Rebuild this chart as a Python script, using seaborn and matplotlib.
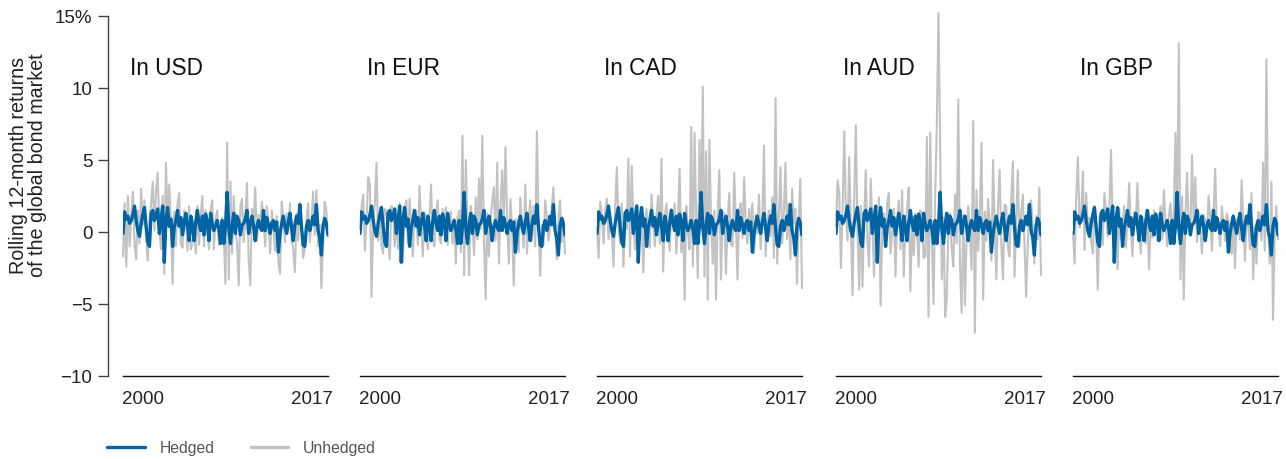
import numpy as np
import pandas as pd
import matplotlib
matplotlib.use("Agg")
import matplotlib.pyplot as plt
import seaborn as sns

# ─────────────────────────────────────────────
# Données (rendements glissants 12 mois, en %)
# ─────────────────────────────────────────────
dates = pd.date_range("1998-01-01", periods=125, freq="2MS")
devises = ["In USD", "In EUR", "In CAD", "In AUD", "In GBP"]

hedged = [
    -0.1, 1.4, 0.9, 1.1, 0.6, 0.8, 1.2, 1.8, 0.8, 0.1, -0.3, 0.6, 1.2, 1.7, 0.4, -0.7, -1.0, 1.3, 1.5, 0.8,
    1.1, 1.6, -0.1, 0.9, 1.8, -2.1, 0.8, 1.7, 0.4, 0.9, -1.0, 0.3, 0.8, 1.5, 0.4, 1.0, -0.2, 0.6, 1.3, 0.5,
    -0.6, 1.1, 0.4, -0.6, 0.7, 1.5, 0.6, 0.1, 1.1, -0.2, 1.25, 0.7, -0.6, 1.3, 0.5, 0.1, 0.4, 0.8, 0.2, -0.8,
    0.8, -0.8, 0.4, 2.75, 0.3, -0.8, 0.5, 1.3, -0.1, 1.1, 0.8, -0.2, 0.5, 0.6, 0.9, 1.5, -0.1, 0.6, 1.1, 0.4,
    -0.6, 0.4, 0.8, 0.3, 0.1, 1.5, 0.1, 1.0, 0.5, -0.1, 0.6, 0.8, 0.1, 0.7, -1.4, -0.1, 0.6, 1.1, 0.4, -0.1,
    0.7, 1.3, 0.3, -0.6, 0.5, 1.1, 0.6, 1.9, 0.3, -0.9, -1.0, 0.4, 0.8, 0.1, 0.6, 1.1, 0.5, 1.9, 0.1, -0.4,
    -1.6, 0.4, 0.95, 0.6, -0.2,
]

unhedged_usd = [
    -1.7, 2.0, -2.4, 2.5, -1.0, 1.2, 2.8, -0.9, -1.9, 1.5, -0.8, 3.0, 0.5, 2.2, -0.5, -2.0, 0.8, 2.0, 3.5, 0.1,
    2.9, 4.1, 0.1, -1.2, 2.5, -2.9, 4.8, 1.0, 3.3, 0.6, -3.6, 1.4, -1.0, 2.0, 2.7, -0.8, -1.1, 1.5, 0.9, -1.3,
    1.8, -1.2, -0.8, 0.8, -1.5, 1.8, -0.9, 1.2, 2.5, -1.0, 1.5, 0.3, -1.2, 1.6, 2.2, -1.2, 0.9, 1.5, -0.9, 0.2,
    1.0, -0.4, -3.6, 6.2, -3.3, 3.5, -1.5, 2.5, 0.2, -0.8, -3.7, 1.8, 2.3, -0.7, 0.8, 3.4, -1.9, -3.7, 1.6, 0.4,
    3.1, -0.6, 1.2, 0.3, 2.1, 1.0, -1.0, 1.8, 0.6, -1.5, 1.5, 0.2, -1.3, 1.1, -2.1, -2.9, 2.1, 1.0, -0.7, 1.3,
    0.1, 2.0, -0.6, -1.2, -2.8, 1.3, -0.6, 2.0, 0.4, -1.8, -1.1, 0.9, 2.0, -0.7, 0.6, 2.8, -0.2, 2.9, -1.0, 0.5,
    -3.9, -0.8, 2.1, 1.5, -0.3,
]

unhedged_eur = [
    0.2, 1.8, 2.6, -1.3, 1.0, 3.8, 3.3, -4.5, 0.5, 2.0, 4.8, -0.6, 1.0, -0.9, -1.5, 1.6, 1.5, -0.5, -1.9, 1.8,
    1.6, -1.0, 0.8, -1.2, 2.0, 0.2, -2.1, 1.5, 2.2, -0.8, 2.3, 0.4, -1.7, 1.2, 1.5, -0.9, 3.2, 0.5, -1.7, 1.4,
    0.4, -1.2, 1.0, 3.3, -0.5, -1.0, 1.3, 2.2, -0.4, -0.8, 1.6, 0.3, 1.7, -0.9, 0.8, 1.4, -0.8, 0.9, -2.2, 1.0,
    1.5, -1.4, 6.7, -3.0, 5.0, 0.6, -3.0, 1.8, 0.6, -1.6, 2.4, -0.5, 3.7, 0.2, 6.7, -0.5, -4.65, 1.3, -1.7, 0.8,
    2.1, 3.1, -0.6, 4.8, -2.2, 1.8, 4.3, 0.5, 5.9, 1.0, -2.2, 2.3, 0.4, -3.7, 0.9, 0.8, -1.4, 2.4, 0.6, -1.1,
    3.3, -1.5, 0.7, 2.2, -0.6, 1.8, -1.0, 7.0, 1.0, -3.05, 0.5, -0.9, 2.2, 1.1, -0.6, 0.3, 1.7, 3.1, 0.2, -1.9,
    0.8, 2.2, -0.7, 0.9, -1.5,
]

unhedged_cad = [
    0.3, -1.8, 2.1, 1.0, -0.8, 1.5, 2.3, -0.5, 1.2, 0.0, -2.4, 1.6, 4.5, 0.4, -0.8, 2.0, -2.4, 1.0, 0.2, 5.1,
    -1.7, 4.6, 0.6, -1.2, 1.9, 1.3, -0.6, 1.5, -2.8, 0.9, 1.6, 0.1, -1.1, 2.6, 0.8, -1.0, 1.2, 2.5, -0.8, 5.1,
    -2.75, 1.1, 2.0, -0.1, -1.3, 1.6, 0.4, 2.0, -1.5, 1.0, 4.4, -1.4, 0.9, -4.7, 1.8, 0.1, -1.2, 7.3, -2.4, 6.9,
    1.0, -3.2, 6.4, 0.5, 10.1, -3.1, 5.6, -4.7, 6.4, 0.8, -2.2, 1.5, -4.7, 1.2, 4.3, -3.3, 1.4, 1.3, -2.9, 0.6,
    2.7, -0.8, -1.0, 4.1, 0.8, -3.3, 1.5, 2.0, -0.4, 3.8, 0.3, -0.8, 1.6, 0.4, 2.0, -1.5, 1.2, -0.1, 2.6, -1.2,
    0.9, 6.0, -1.7, 0.6, 1.5, -0.3, 2.4, -1.8, 9.3, -2.2, 1.0, 4.5, -0.8, 1.3, 4.8, -0.5, 2.0, -1.9, 3.0, 0.6,
    1.6, -3.6, 0.7, 3.7, -3.9,
]

unhedged_aud = [
    0.4, 3.6, 2.7, -2.5, 1.5, 7.0, 1.2, -0.6, 5.2, 0.5, -4.4, 2.2, 7.4, 0.2, -4.0, 1.8, -3.8, 0.9, 4.3, -0.5,
    -2.4, 3.7, 0.6, -3.1, 1.4, -1.9, 2.4, -5.1, 0.3, 1.3, -0.9, 2.0, 2.7, -1.5, 0.0, 1.6, -3.1, 0.9, 2.2, -1.2,
    2.9, -3.1, 0.8, 1.5, 3.1, -4.1, 0.6, -1.6, 1.3, 0.2, -2.4, 1.5, 1.0, -1.8, -1.7, 6.6, -5.9, 6.9, -0.6, -5.0,
    2.5, 7.4, 15.2, 6.2, -3.3, 1.0, -5.9, -4.7, 0.5, 1.3, -1.2, -2.4, 2.6, -0.8, 9.2, -2.2, -5.6, 1.2, -5.1, -0.4,
    1.8, 0.0, -2.6, 7.7, -7.0, 2.9, -1.3, 1.1, 6.2, -4.7, 1.4, -0.6, 2.3, 0.6, -2.0, 5.0, 0.4, -3.3, 1.7, 4.3,
    -0.9, -3.3, 1.9, 1.8, -1.1, -1.7, 2.4, 4.9, -3.1, 0.8, 4.3, -1.0, 1.3, 2.6, -0.8, -4.5, -1.0, 1.9, 2.2, 0.4,
    -2.2, 1.1, -0.5, 3.1, -3.0,
]

unhedged_gbp = [
    0.0, -2.2, 2.5, 5.2, 0.3, 1.3, 4.2, -1.25, 2.7, 0.5, 1.0, -0.6, -1.5, 1.8, 0.2, -4.0, 1.1, 1.2, -0.9, 2.7,
    1.5, -0.3, 1.4, 5.7, 0.4, -1.5, 1.2, -2.6, 1.6, -0.5, 0.7, 1.8, -1.1, 0.9, 3.4, 0.2, -1.7, 1.4, 0.6, 3.4,
    0.1, -1.5, 1.0, 0.9, -0.8, 1.5, -2.6, 0.6, -0.4, 1.5, 0.3, -0.6, 1.1, 1.8, -0.5, 2.9, 0.6, -1.0, 1.2, 2.0,
    -0.6, 1.4, 6.9, 0.8, 13.1, -3.3, 2.45, -4.7, 1.2, 4.1, 0.5, 0.0, 5.35, 0.8, 3.8, -0.7, 1.3, 0.2, -1.5, 1.2,
    0.8, -0.4, 2.5, 1.0, -1.3, 1.2, 4.4, 0.2, 0.4, -1.0, 1.8, 0.6, -0.6, 1.3, 0.8, -0.9, -1.5, 1.1, -2.5, 0.9,
    0.8, -0.5, 3.6, 1.0, -2.0, 0.6, 0.8, -1.2, 2.7, -3.3, 0.3, -2.2, 1.4, 1.3, -0.6, 4.8, -1.3, 12.0, 0.5, -2.2,
    3.5, -6.1, -0.3, 1.8, -0.5,
]

unhedged = [unhedged_usd, unhedged_eur, unhedged_cad, unhedged_aud, unhedged_gbp]

y_ticks = [-10, -5, 0, 5, 10, 15]
y_tick_labels = ["\u221210", "\u22125", "0", "5", "10", "15%"]
x_ticks = [pd.Timestamp("2000-01-01"), pd.Timestamp("2017-01-01")]
x_tick_labels = ["2000", "2017"]

BLEU = "#0063A3"
GRIS = "#C2C2C2"

# ─────────────────────────────────────────────
# Figure
# ─────────────────────────────────────────────
sns.set_style("white")
plt.rcParams["font.family"] = ["Liberation Sans", "DejaVu Sans"]

W, H = 1286, 460
fig = plt.figure(figsize=(W / 100, H / 100), dpi=100)

gauches = [123, 360, 597, 836, 1073]
largeur = 205
bas, haut = 377, 17

for k, (titre, serie) in enumerate(zip(devises, unhedged)):
    ax = fig.add_axes([gauches[k] / W, (H - bas) / H, largeur / W, (bas - haut) / H])
    df = pd.DataFrame({"date": dates, "Hedged": hedged, "Unhedged": serie})

    sns.lineplot(data=df, x="date", y="Unhedged", ax=ax, color=GRIS, linewidth=1.5,
                 estimator=None, clip_on=False, zorder=2)
    sns.lineplot(data=df, x="date", y="Hedged", ax=ax, color=BLEU, linewidth=2.4,
                 estimator=None, zorder=3)

    ax.set_xlim(dates[0], dates[-1])
    ax.set_ylim(-10, 15)
    ax.set_xlabel("")
    ax.set_ylabel("")

    ax.set_xticks(x_ticks)
    ax.set_xticklabels(x_tick_labels, fontsize=13.5, color="#222222")
    ax.tick_params(axis="x", length=0, pad=10)

    for cote in ["top", "right"]:
        ax.spines[cote].set_visible(False)
    ax.spines["bottom"].set_color("#111111")
    ax.spines["bottom"].set_linewidth(1.0)

    if k == 0:
        ax.spines["left"].set_position(("outward", 11))
        ax.spines["left"].set_color("#444444")
        ax.spines["left"].set_linewidth(1.0)
        ax.set_yticks(y_ticks)
        ax.set_yticklabels(y_tick_labels, fontsize=13.5, color="#222222")
        ax.tick_params(axis="y", length=7, width=1.0, color="#444444", pad=4, left=True)
    else:
        ax.spines["left"].set_visible(False)
        ax.set_yticks([])

    ax.text(0.035, 0.838, titre, transform=ax.transAxes, fontsize=16.3,
            ha="left", va="baseline", color="#111111")

fig.text(28 / W, 1 - 165 / H, "Rolling 12-month returns\nof the global bond market",
         rotation=90, ha="center", va="center", multialignment="center",
         fontsize=14.2, color="#222222", linespacing=1.0)

poignees = [plt.Line2D([], [], color=BLEU, linewidth=2.4),
            plt.Line2D([], [], color=GRIS, linewidth=2.4)]
fig.legend(poignees, ["Hedged", "Unhedged"], loc="center left",
           bbox_to_anchor=(107 / W, 1 - 449 / H), ncol=2, frameon=False,
           borderpad=0, borderaxespad=0, handlelength=2.4, handletextpad=0.95,
           columnspacing=2.3,
           prop={"family": ["Liberation Sans"], "size": 11.3},
           labelcolor="#555555")

fig.savefig("out.png", dpi=100)
